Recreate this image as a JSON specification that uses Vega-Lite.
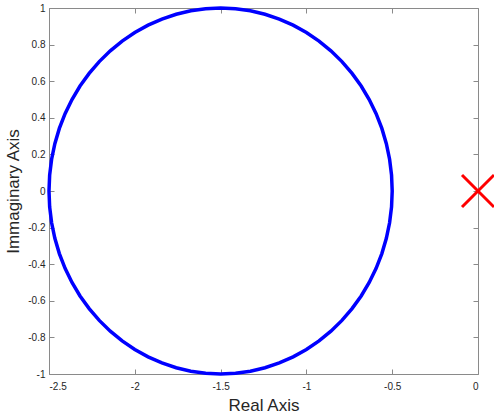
{
  "$schema": "https://vega.github.io/schema/vega-lite/v6.json",
  "autosize": "none",
  "width": 429,
  "height": 366,
  "padding": {"left": 49, "top": 8, "right": 16, "bottom": 39},
  "background": "white",
  "config": {
    "view": {"stroke": null},
    "font": "Liberation Sans",
    "axis": {
      "domainColor": "#8a8a8a",
      "tickColor": "#8a8a8a",
      "tickSize": -5,
      "grid": false,
      "labelFont": "Liberation Sans",
      "labelFontSize": 10,
      "labelColor": "#262626",
      "titleFont": "Liberation Sans",
      "titleFontSize": 17,
      "titleFontWeight": "normal",
      "titleColor": "#262626"
    }
  },
  "datasets": {
    "circle": [
      {"t": 0, "re": -0.5, "im": 0},
      {"t": 1, "re": -0.5038, "im": 0.0872},
      {"t": 2, "re": -0.5152, "im": 0.1736},
      {"t": 3, "re": -0.5341, "im": 0.2588},
      {"t": 4, "re": -0.5603, "im": 0.342},
      {"t": 5, "re": -0.5937, "im": 0.4226},
      {"t": 6, "re": -0.634, "im": 0.5},
      {"t": 7, "re": -0.6808, "im": 0.5736},
      {"t": 8, "re": -0.734, "im": 0.6428},
      {"t": 9, "re": -0.7929, "im": 0.7071},
      {"t": 10, "re": -0.8572, "im": 0.766},
      {"t": 11, "re": -0.9264, "im": 0.8192},
      {"t": 12, "re": -1.0, "im": 0.866},
      {"t": 13, "re": -1.0774, "im": 0.9063},
      {"t": 14, "re": -1.158, "im": 0.9397},
      {"t": 15, "re": -1.2412, "im": 0.9659},
      {"t": 16, "re": -1.3264, "im": 0.9848},
      {"t": 17, "re": -1.4128, "im": 0.9962},
      {"t": 18, "re": -1.5, "im": 1},
      {"t": 19, "re": -1.5872, "im": 0.9962},
      {"t": 20, "re": -1.6736, "im": 0.9848},
      {"t": 21, "re": -1.7588, "im": 0.9659},
      {"t": 22, "re": -1.842, "im": 0.9397},
      {"t": 23, "re": -1.9226, "im": 0.9063},
      {"t": 24, "re": -2.0, "im": 0.866},
      {"t": 25, "re": -2.0736, "im": 0.8192},
      {"t": 26, "re": -2.1428, "im": 0.766},
      {"t": 27, "re": -2.2071, "im": 0.7071},
      {"t": 28, "re": -2.266, "im": 0.6428},
      {"t": 29, "re": -2.3192, "im": 0.5736},
      {"t": 30, "re": -2.366, "im": 0.5},
      {"t": 31, "re": -2.4063, "im": 0.4226},
      {"t": 32, "re": -2.4397, "im": 0.342},
      {"t": 33, "re": -2.4659, "im": 0.2588},
      {"t": 34, "re": -2.4848, "im": 0.1736},
      {"t": 35, "re": -2.4962, "im": 0.0872},
      {"t": 36, "re": -2.5, "im": 0},
      {"t": 37, "re": -2.4962, "im": -0.0872},
      {"t": 38, "re": -2.4848, "im": -0.1736},
      {"t": 39, "re": -2.4659, "im": -0.2588},
      {"t": 40, "re": -2.4397, "im": -0.342},
      {"t": 41, "re": -2.4063, "im": -0.4226},
      {"t": 42, "re": -2.366, "im": -0.5},
      {"t": 43, "re": -2.3192, "im": -0.5736},
      {"t": 44, "re": -2.266, "im": -0.6428},
      {"t": 45, "re": -2.2071, "im": -0.7071},
      {"t": 46, "re": -2.1428, "im": -0.766},
      {"t": 47, "re": -2.0736, "im": -0.8192},
      {"t": 48, "re": -2.0, "im": -0.866},
      {"t": 49, "re": -1.9226, "im": -0.9063},
      {"t": 50, "re": -1.842, "im": -0.9397},
      {"t": 51, "re": -1.7588, "im": -0.9659},
      {"t": 52, "re": -1.6736, "im": -0.9848},
      {"t": 53, "re": -1.5872, "im": -0.9962},
      {"t": 54, "re": -1.5, "im": -1},
      {"t": 55, "re": -1.4128, "im": -0.9962},
      {"t": 56, "re": -1.3264, "im": -0.9848},
      {"t": 57, "re": -1.2412, "im": -0.9659},
      {"t": 58, "re": -1.158, "im": -0.9397},
      {"t": 59, "re": -1.0774, "im": -0.9063},
      {"t": 60, "re": -1.0, "im": -0.866},
      {"t": 61, "re": -0.9264, "im": -0.8192},
      {"t": 62, "re": -0.8572, "im": -0.766},
      {"t": 63, "re": -0.7929, "im": -0.7071},
      {"t": 64, "re": -0.734, "im": -0.6428},
      {"t": 65, "re": -0.6808, "im": -0.5736},
      {"t": 66, "re": -0.634, "im": -0.5},
      {"t": 67, "re": -0.5937, "im": -0.4226},
      {"t": 68, "re": -0.5603, "im": -0.342},
      {"t": 69, "re": -0.5341, "im": -0.2588},
      {"t": 70, "re": -0.5152, "im": -0.1736},
      {"t": 71, "re": -0.5038, "im": -0.0872},
      {"t": 72, "re": -0.5, "im": 0}
    ],
    "pole": [{"re": 0, "im": 0}]
  },
  "layer": [
    {
      "data": {"name": "circle"},
      "mark": {"type": "line", "color": "#0000ff", "strokeWidth": 3.5, "clip": false},
      "encoding": {
        "x": {
          "field": "re", "type": "quantitative",
          "scale": {"domain": [-2.5, 0], "nice": false, "zero": false},
          "axis": {
            "orient": "bottom",
            "title": "Real Axis",
            "values": [-2.5, -2, -1.5, -1, -0.5, 0],
            "labelExpr": "'' + datum.value",
            "labelPadding": 12,
            "titleY": 36,
            "titleBaseline": "alphabetic"
          }
        },
        "y": {
          "field": "im", "type": "quantitative",
          "scale": {"domain": [-1, 1], "nice": false, "zero": false},
          "axis": {
            "orient": "left",
            "title": "Immaginary Axis",
            "values": [-1, -0.8, -0.6, -0.4, -0.2, 0, 0.2, 0.4, 0.6, 0.8, 1],
            "labelExpr": "'' + datum.value",
            "labelPadding": 9,
            "titleX": -31,
            "titleBaseline": "alphabetic"
          }
        },
        "order": {"field": "t", "type": "quantitative"}
      }
    },
    {
      "data": {"name": "pole"},
      "mark": {
        "type": "point",
        "shape": "M-1,-1L1,1M-1,1L1,-1",
        "size": 1024,
        "filled": false,
        "color": "#ff0000",
        "strokeWidth": 3,
        "opacity": 1,
        "clip": false
      },
      "encoding": {
        "x": {
          "field": "re", "type": "quantitative",
          "axis": {
            "orient": "top", "title": null, "labels": false,
            "values": [-2.5, -2, -1.5, -1, -0.5, 0]
          }
        },
        "y": {
          "field": "im", "type": "quantitative",
          "axis": {
            "orient": "right", "title": null, "labels": false,
            "values": [-1, -0.8, -0.6, -0.4, -0.2, 0, 0.2, 0.4, 0.6, 0.8, 1]
          }
        }
      }
    }
  ],
  "resolve": {"axis": {"x": "independent", "y": "independent"}}
}
